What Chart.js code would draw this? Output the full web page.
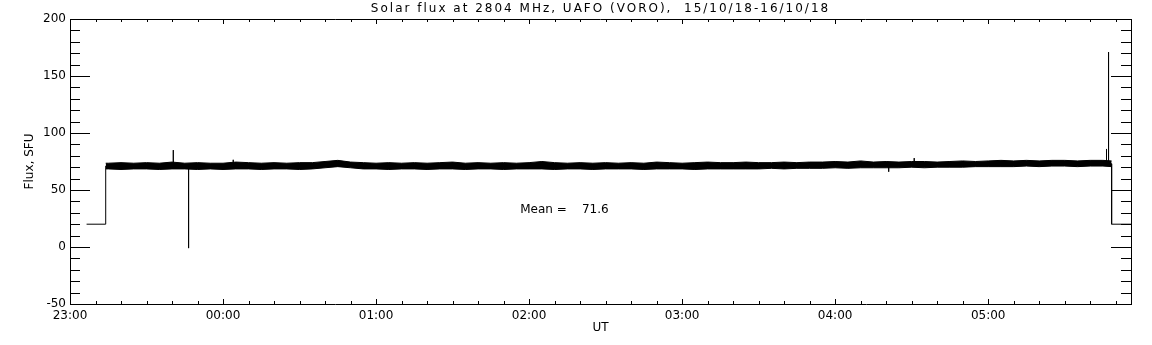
<!DOCTYPE html>
<html>
<head>
<meta charset="utf-8">
<script src="https://cdn.jsdelivr.net/npm/chart.js@4/dist/chart.umd.min.js"></script>
<style>
  html, body { margin: 0; padding: 0; background: #fff; }
</style>
</head>
<body>
<canvas id="fluxChart" width="1152" height="345"></canvas>
<script>
// Solar flux at 2804 MHz, time in minutes after 23:00 UT

// tick labels on the time axis (one per hour from 23:00)
const hourTicks = [0, 60, 120, 180, 240, 300, 360];
const hourLabels = ["23:00", "00:00", "01:00", "02:00", "03:00", "04:00", "05:00"];

// flux trace: steps and single spikes
const traceT = [6.5, 14, 14, 40.5, 40.5, 40.5, 46.5, 46.5, 46.5, 64, 64, 64, 321, 321, 321, 331, 331, 331,
                406.4, 406.4, 406.4, 407.2, 407.2, 407.2, 408.4, 408.4, 416];
const traceV = [20, 20, 71, 71, 85, 71, 71, -1, 71, 71, 76.5, 71, 72, 66, 72, 72, 78, 72,
                73, 86, 73, 73, 171, 73, 73, 20, 20];

// noisy band of the signal: upper and lower edge every 5 min
const bandT = [14, 15, 20, 25, 30, 35, 40, 45, 50, 55, 60, 65, 70, 75, 80, 85, 90, 95, 100, 105, 110,
               115, 120, 125, 130, 135, 140, 145, 150, 155, 160, 165, 170, 175, 180, 185, 190, 195, 200,
               205, 210, 215, 220, 225, 230, 235, 240, 245, 250, 255, 260, 265, 270, 275, 280, 285, 290,
               295, 300, 305, 310, 315, 320, 325, 330, 335, 340, 345, 350, 355, 360, 365, 370, 375, 380,
               385, 390, 395, 400, 405, 408.4];
const bandHi = [73.5, 73.5, 74, 73.5, 74, 73.5, 74.5, 73.5, 74, 73.5, 73.5, 74.5, 74, 73.5, 74, 73.5, 74, 74, 75, 76, 74.5,
                74, 73.5, 74, 73.5, 74, 73.5, 74, 74.5, 73.5, 74, 73.5, 74, 73.5, 74, 75, 74, 73.5, 74,
                73.5, 74, 73.5, 74, 73.5, 74.5, 74, 73.5, 74, 74.5, 74, 74, 74.5, 74, 74, 74.5, 74, 74.5,
                74.5, 75, 74.5, 75.5, 74.5, 75, 74.5, 75, 75, 74.5, 75, 75.5, 75, 75.5, 76, 75.5, 76, 75.5,
                76, 76, 75.5, 76, 76, 75.5];
const bandLo = [68.5, 68.5, 68, 68.5, 68.5, 68, 68.5, 68.5, 68, 68.5, 68, 68.5, 68.5, 68, 68.5, 68.5, 68, 68.5, 69.5, 70.5, 69.5,
                68.5, 68.5, 68, 68.5, 68.5, 68, 68.5, 68.5, 68, 68.5, 68.5, 68, 68.5, 68.5, 68.5, 68, 68.5, 68.5,
                68, 68.5, 68.5, 68.5, 68, 68.5, 68.5, 68.5, 68, 68.5, 68.5, 68.5, 68.5, 68.5, 69, 68.5, 69, 69,
                69, 69.5, 69, 69.5, 69.5, 69.5, 69.5, 70, 69.5, 70, 70, 70, 70.5, 70.5, 70.5, 70.5, 71, 70.5,
                71, 71, 70.5, 71, 71, 70.5];

const meanValue = 71.6;

const font = "DejaVu Sans";

function pts(xs, ys) {
    return xs.map((x, i) => ({ x: x, y: ys[i] }));
}

function hourLabel(v) {
    let i = hourTicks.indexOf(v);
    return i >= 0 ? hourLabels[i] : "";
}

// frame, inward ticks, title and mean text
const framePlugin = {
    id: "frame",
    afterDraw(chart) {
        let ctx = chart.ctx;
        let a = chart.chartArea;
        let xs = chart.scales.x, ys = chart.scales.y;
        ctx.save();
        ctx.strokeStyle = "#000";
        ctx.lineWidth = 1;
        ctx.beginPath();
        ctx.moveTo(a.left, Math.round(a.top) + 0.5);
        ctx.lineTo(a.right, Math.round(a.top) + 0.5);
        ctx.moveTo(Math.round(a.right) + 0.5, a.top);
        ctx.lineTo(Math.round(a.right) + 0.5, a.bottom);

        for (let v = -50; v <= 200; v += 10) {
            let len = v % 50 === 0 ? 20 : 10;
            let py = Math.round(ys.getPixelForValue(v)) + 0.5;
            ctx.moveTo(a.left, py);
            ctx.lineTo(a.left + len, py);
            ctx.moveTo(a.right, py);
            ctx.lineTo(a.right - len, py);
        }
        for (let m = 0; m <= 416; m += 10) {
            let len = m % 60 === 0 ? 5 : 3;
            let px = Math.round(xs.getPixelForValue(m)) + 0.5;
            ctx.moveTo(px, a.bottom);
            ctx.lineTo(px, a.bottom - len);
            ctx.moveTo(px, a.top);
            ctx.lineTo(px, a.top + len);
        }
        ctx.stroke();

        ctx.fillStyle = "#000";
        ctx.font = "12px '" + font + "'";
        ctx.textBaseline = "middle";
        ctx.textAlign = "center";
        ctx.letterSpacing = "2px";
        ctx.fillText("Solar flux at 2804 MHz, UAFO (VORO),  15/10/18-16/10/18", (a.left + a.right) / 2, 9);

        ctx.letterSpacing = "0px";
        ctx.textAlign = "left";
        ctx.fillText("Mean =    " + meanValue.toFixed(1), xs.getPixelForValue(176.5), ys.getPixelForValue(32.5));
        ctx.restore();
    }
};

new Chart(document.getElementById("fluxChart"), {

    type: "line",

    data: {
        datasets: [{
            label: "band high",
            data: pts(bandT, bandHi),
            borderColor: "#000",
            borderWidth: 1,
            pointRadius: 0,
            fill: false
        }, {
            label: "band low",
            data: pts(bandT, bandLo),
            borderColor: "#000",
            backgroundColor: "#000",
            borderWidth: 1,
            pointRadius: 0,
            fill: "-1"
        }, {
            label: "flux",
            data: pts(traceT, traceV),
            borderColor: "#000",
            borderWidth: 1,
            pointRadius: 0,
            fill: false
        }]
    },

    options: {
        responsive: false,
        animation: false,
        events: [],
        layout: { padding: { top: 19, right: 21, left: 0, bottom: 0 } },
        plugins: {
            legend: { display: false },
            tooltip: { enabled: false }
        },
        scales: {
            x: {
                type: "linear",
                min: 0,
                max: 416,
                afterBuildTicks: s => { s.ticks = hourTicks.map(v => ({ value: v })); },
                afterFit: s => { s.height = 41; },
                ticks: {
                    callback: v => hourLabel(v),
                    color: "#000",
                    font: { family: font, size: 12 },
                    padding: 5,
                    maxRotation: 0,
                    autoSkip: false
                },
                grid: { display: false, drawTicks: false },
                border: { display: true, color: "#000", width: 1 },
                title: {
                    display: true,
                    text: "UT",
                    color: "#000",
                    font: { family: font, size: 12 },
                    padding: { top: 0, bottom: 10 }
                }
            },
            y: {
                min: -50,
                max: 200,
                afterFit: s => { s.width = 70; },
                ticks: {
                    stepSize: 50,
                    color: "#000",
                    font: { family: font, size: 12 },
                    padding: 4
                },
                grid: { display: false, drawTicks: false },
                border: { display: true, color: "#000", width: 1 },
                title: {
                    display: true,
                    text: "Flux, SFU",
                    color: "#000",
                    font: { family: font, size: 12 },
                    padding: { top: 23, bottom: 0 }
                }
            }
        }
    },

    plugins: [framePlugin]

});
</script>
</body>
</html>
